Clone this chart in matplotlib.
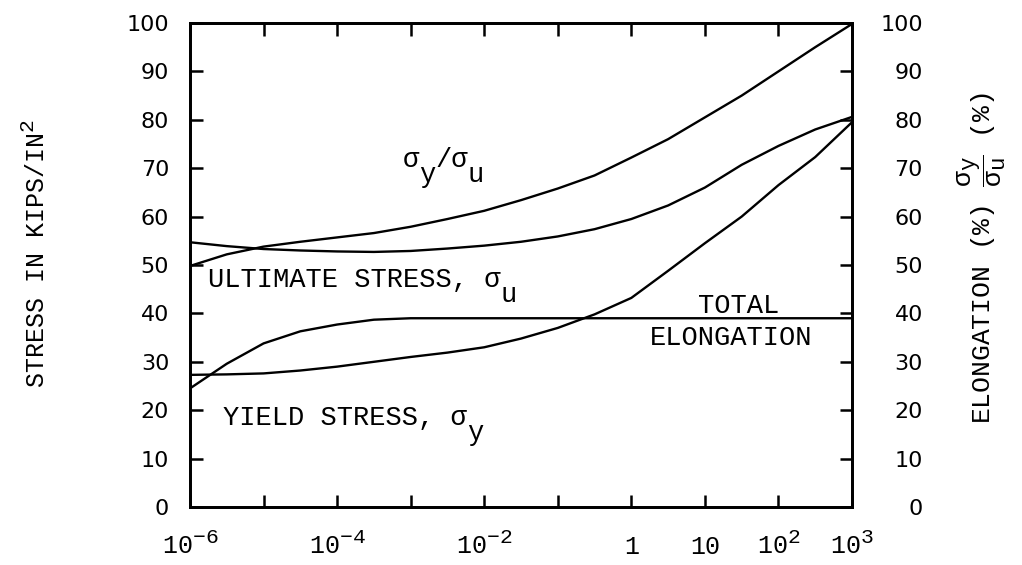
import numpy as np
import matplotlib
matplotlib.use("Agg")
import matplotlib.pyplot as plt
import matplotlib.transforms as mtransforms
import matplotlib._mathtext as _mt

# ---------------- data ----------------
x_exp = [-6, -5.5, -5, -4.5, -4, -3.5, -3, -2.5, -2, -1.5, -1, -0.5,
         0, 0.5, 1, 1.5, 2, 2.5, 3]
ratio_pct = [49.8, 52.2, 53.8, 54.8, 55.7, 56.6, 57.9, 59.5, 61.2, 63.4,
             65.8, 68.5, 72.2, 76.0, 80.5, 85.0, 90.0, 95.0, 99.8]
ultimate_stress = [54.7, 53.9, 53.3, 53.0, 52.8, 52.7, 52.9, 53.4, 54.0, 54.8,
                   55.9, 57.4, 59.5, 62.3, 66.0, 70.7, 74.6, 78.0, 80.6]
total_elongation = [24.5, 29.6, 33.8, 36.3, 37.7, 38.7, 39.0, 39.0, 39.0, 39.0,
                    39.0, 39.0, 39.0, 39.0, 39.0, 39.0, 39.0, 39.0, 39.0]
yield_stress = [27.3, 27.4, 27.6, 28.2, 29.0, 30.0, 31.0, 31.9, 33.0, 34.8,
                37.0, 39.8, 43.2, 48.8, 54.5, 60.0, 66.5, 72.3, 79.5]

x_tick_exp = [-6, -5, -4, -3, -2, -1, 0, 1, 2, 3]
x_tick_labels = [r"$\mathregular{10^{-6}}$", "", r"$\mathregular{10^{-4}}$", "",
                 r"$\mathregular{10^{-2}}$", "", "1", "10",
                 r"$\mathregular{10^{2}}$", r"$\mathregular{10^{3}}$"]
y_ticks = [0, 10, 20, 30, 40, 50, 60, 70, 80, 90, 100]
y_tick_labels = ["0", "10", "20", "30", "40", "50", "60", "70", "80", "90", "100"]

# ---------------- style ----------------
MONO = ["Liberation Mono", "DejaVu Sans Mono"]
plt.rcParams["mathtext.fontset"] = "custom"
plt.rcParams["mathtext.rm"] = "Liberation Mono"
plt.rcParams["mathtext.it"] = "Liberation Mono"
plt.rcParams["mathtext.bf"] = "Liberation Mono:bold"
plt.rcParams["mathtext.sf"] = "Liberation Mono"
# typewritten originals use nearly full-size super/subscripts
_mt.SHRINK_FACTOR = 0.85

fig = plt.figure(figsize=(10.22, 5.65), dpi=100)
ax = fig.add_axes([190 / 1022, 58 / 565, 662 / 1022, 484 / 565])

x = [10.0 ** e for e in x_exp]
for series in (ratio_pct, ultimate_stress, total_elongation, yield_stress):
    ax.plot(x, series, color="black", lw=1.7, solid_capstyle="round")

ax.set_xscale("log")
ax.set_xlim(1e-6, 1e3)
ax.set_ylim(0, 100)
ax.minorticks_off()

for s in ax.spines.values():
    s.set_linewidth(2.0)

xt = [10.0 ** e for e in x_tick_exp]
ax.set_xticks(xt, x_tick_labels, va="baseline", family=MONO, fontsize=18)
ax.set_yticks(y_ticks, y_tick_labels, family="DejaVu Sans", fontsize=16)
ax.tick_params(axis="x", which="major", direction="in", length=9, width=1.8,
               top=True, bottom=True, pad=34)
ax.tick_params(axis="y", which="major", direction="in", length=9, width=1.8,
               left=True, right=False, pad=15)

ax2 = ax.twinx()
ax2.set_ylim(0, 100)
ax2.set_yticks(y_ticks, y_tick_labels, family="DejaVu Sans", fontsize=16)
for t in ax2.get_yticklabels():
    t.set_ha("right")
ax2.tick_params(axis="y", direction="in", length=9, width=1.8, pad=51)
for s in ax2.spines.values():
    s.set_linewidth(2.0)


def mono_runs(x0, y0, runs, fs=19.5, drop=10.8):
    adv = 0.6 * fs
    off = 0.0
    for s, sub in runs:
        tr = mtransforms.offset_copy(ax.transData, fig=fig, x=off,
                                     y=-drop if sub else 0, units="points")
        ax.text(x0, y0, s, transform=tr, fontsize=fs, family=MONO,
                ha="left", va="baseline")
        off += adv * len(s)


mono_runs(10 ** -3.106, 70.2, [("σ", False), ("y", True), ("/σ", False), ("u", True)])
mono_runs(10 ** -5.755, 45.5, [("ULTIMATE STRESS, σ", False), ("u", True)])
mono_runs(10 ** -5.552, 16.9, [("YIELD STRESS, σ", False), ("y", True)])
mono_runs(10 ** 0.902, 40.1, [("TOTAL", False)])
mono_runs(10 ** 0.250, 33.5, [("ELONGATION", False)])

fig.text(36 / 1022, 1 - 254 / 565, r"STRESS IN KIPS/IN$^{2}$", rotation=90,
         ha="center", va="center", fontsize=18, family=MONO)
fig.text(982 / 1022, 1 - 258 / 565,
         r"ELONGATION (%) $\dfrac{\sigma_y}{\sigma_u}$ (%)", rotation=90,
         ha="center", va="center", fontsize=19, family=MONO)

fig.savefig("out.png", dpi=100)
